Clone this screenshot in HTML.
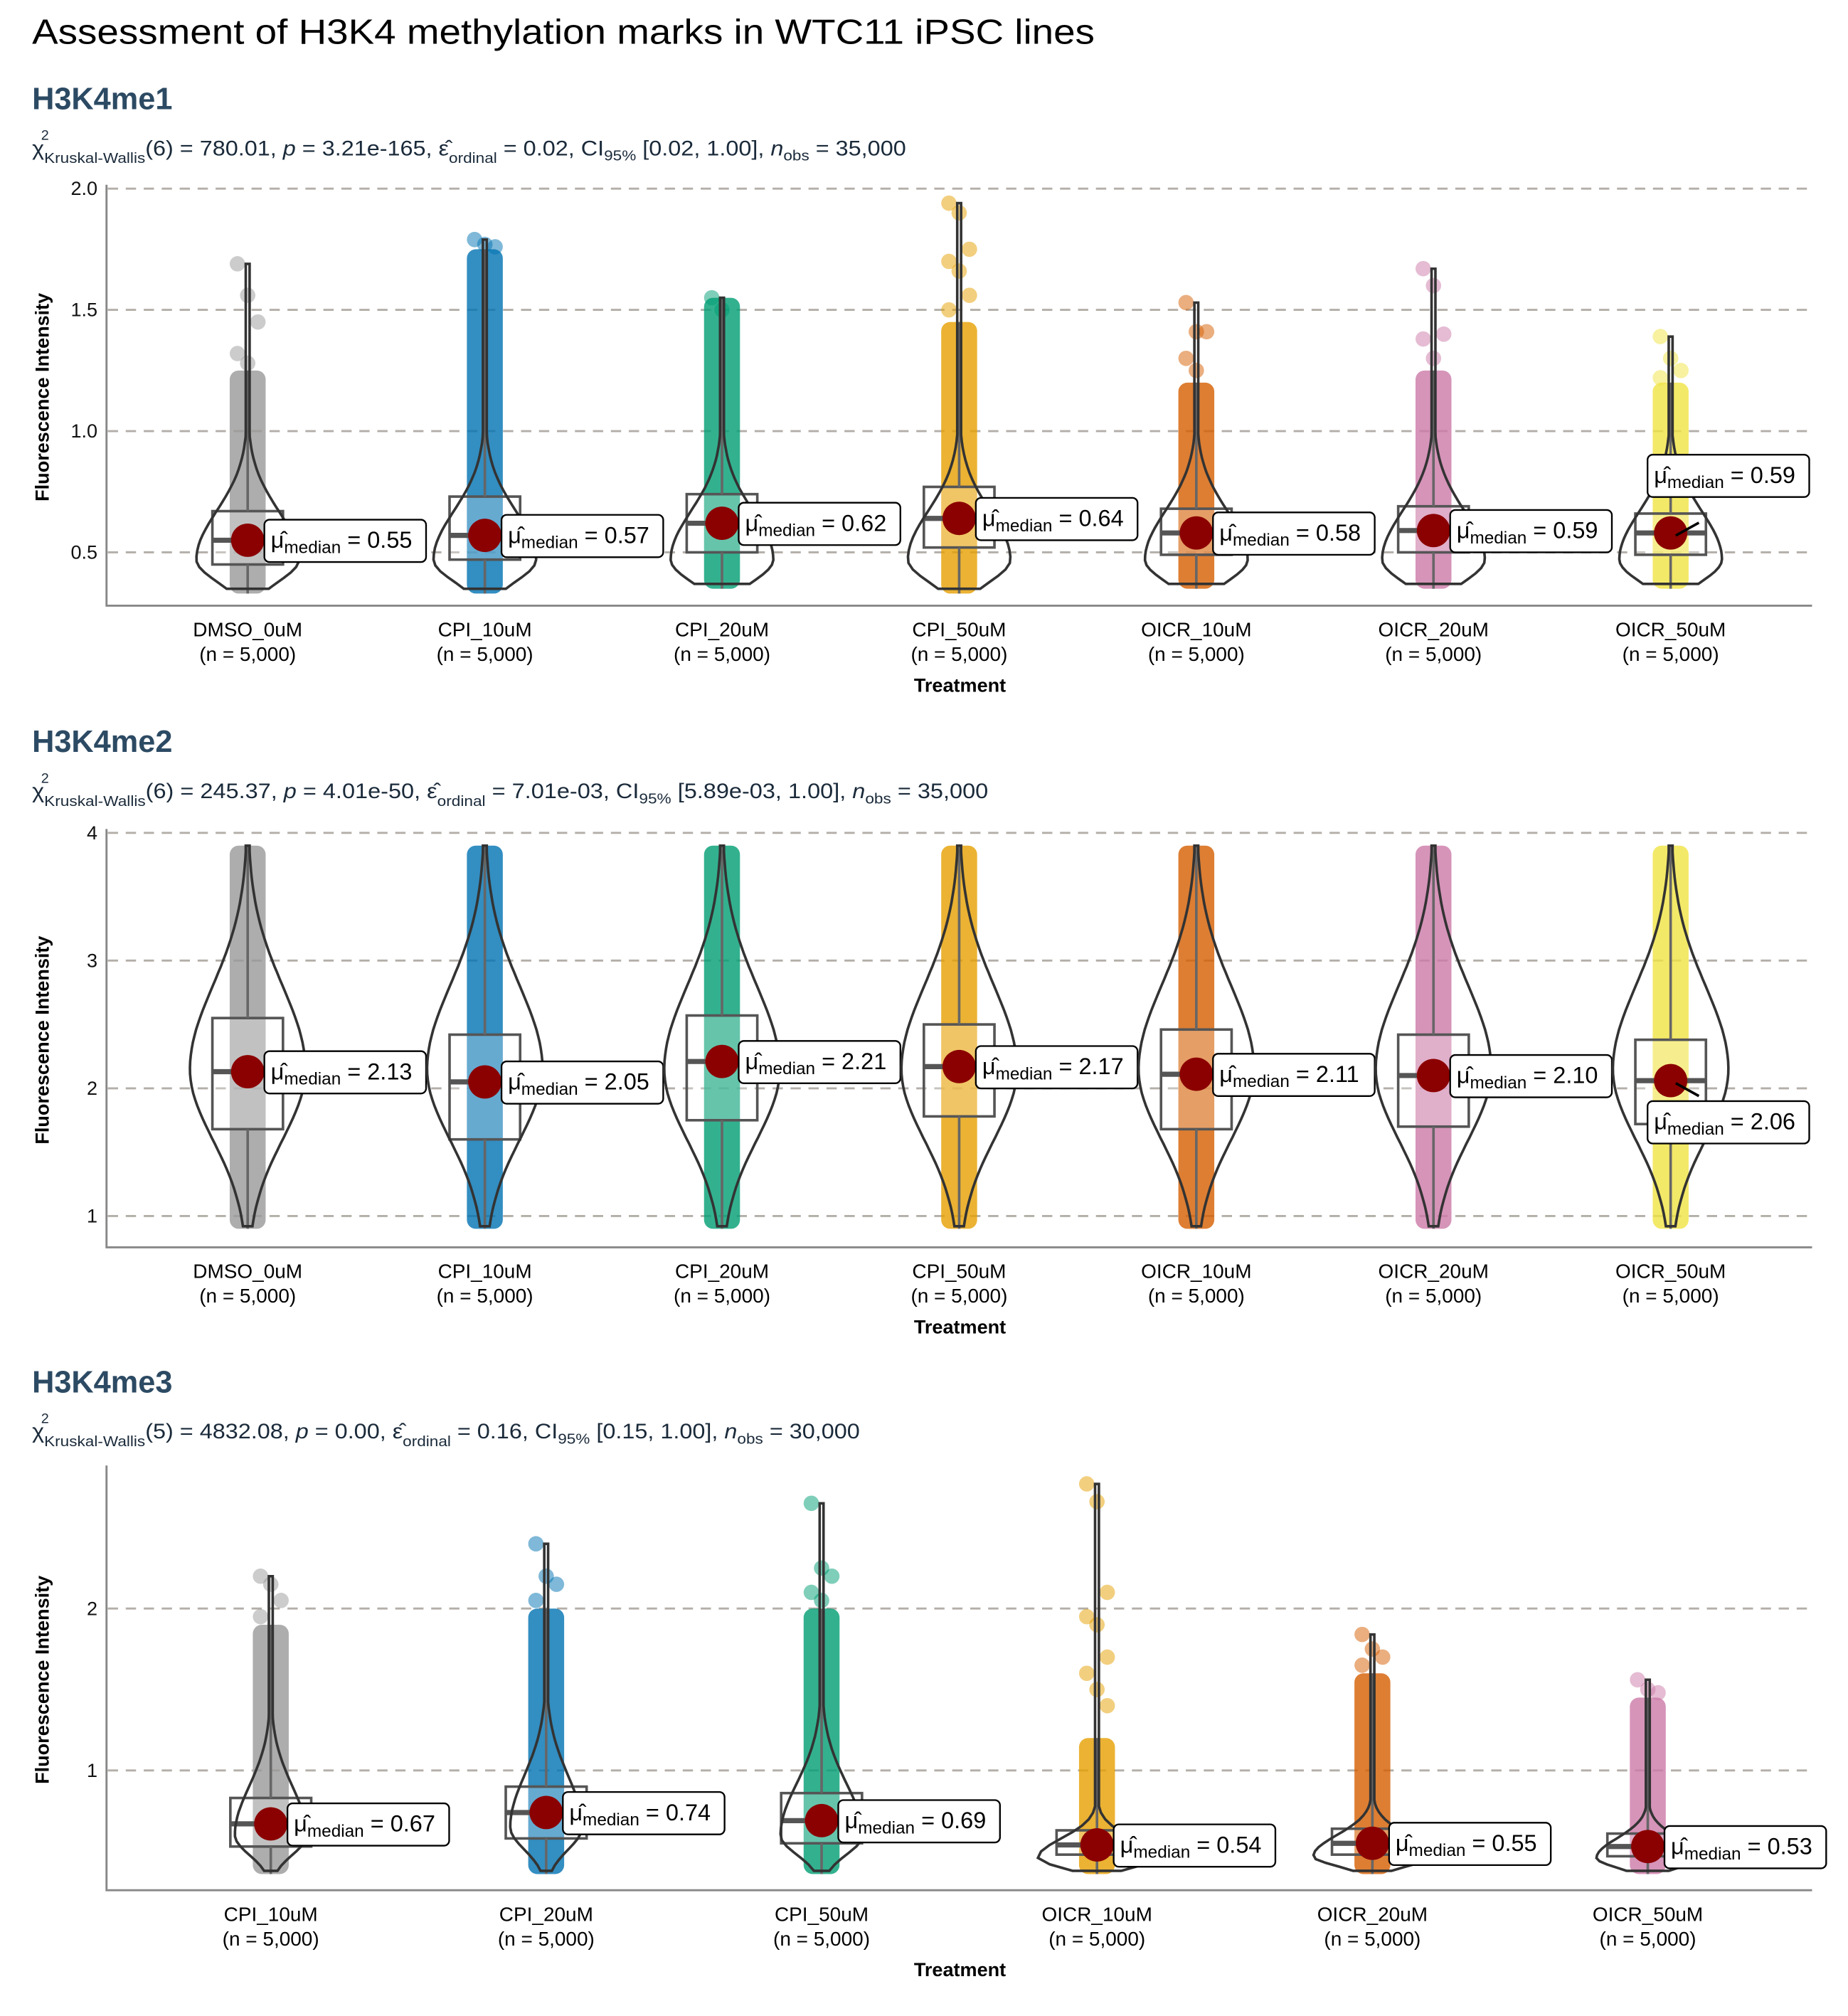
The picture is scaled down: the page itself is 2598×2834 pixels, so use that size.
<!DOCTYPE html>
<html><head><meta charset="utf-8"><style>
html,body{margin:0;padding:0;background:#fff;}
svg{display:block;font-family:"Liberation Sans",Arial,sans-serif;}
</style></head><body>
<svg id="chart" width="2598" height="2834" viewBox="0 0 1440 1571" preserveAspectRatio="none" xmlns="http://www.w3.org/2000/svg">
<text x="25" y="34" font-size="27" fill="#000" textLength="828" lengthAdjust="spacingAndGlyphs">Assessment of H3K4 methylation marks in WTC11 iPSC lines</text>
<g id="panels"></g>
</svg>
<script>
// ---- data arrays ----
const panelNames = ["H3K4me1","H3K4me2","H3K4me3"];
const cats1 = ["DMSO_0uM","CPI_10uM","CPI_20uM","CPI_50uM","OICR_10uM","OICR_20uM","OICR_50uM"];
const cats3 = ["CPI_10uM","CPI_20uM","CPI_50uM","OICR_10uM","OICR_20uM","OICR_50uM"];
const colors1 = ["#999999","#0072B2","#009E73","#E69F00","#D55E00","#CC79A7","#F0E442"];
const colors3 = ["#999999","#0072B2","#009E73","#E69F00","#D55E00","#CC79A7"];
// H3K4me1
const q1_1 = [0.45,0.47,0.50,0.52,0.49,0.50,0.49];
const med_1 = [0.55,0.57,0.62,0.64,0.58,0.59,0.58];
const q3_1 = [0.67,0.73,0.74,0.77,0.68,0.69,0.66];
const min_1 = [0.33,0.33,0.35,0.33,0.35,0.35,0.35];
const max_1 = [1.69,1.79,1.55,1.94,1.53,1.67,1.39];
const dense_1 = [1.25,1.75,1.55,1.45,1.2,1.25,1.2];
const out_1 = [[1.69,1.56,1.45,1.32,1.28],[1.79,1.77,1.76],[1.55,1.5],[1.94,1.9,1.75,1.7,1.66,1.56,1.5],[1.53,1.41,1.41,1.3,1.25],[1.67,1.6,1.4,1.38,1.3],[1.39,1.3,1.25,1.22]];
const lab_1 = ["0.55","0.57","0.62","0.64","0.58","0.59","0.59"];
const labDy_1 = [0,0,0,0,0,0,-45];
// H3K4me2
const q1_2 = [1.68,1.60,1.75,1.78,1.68,1.70,1.72];
const med_2 = [2.13,2.05,2.21,2.17,2.11,2.10,2.06];
const q3_2 = [2.55,2.42,2.57,2.50,2.46,2.42,2.38];
const min_2 = [0.9,0.9,0.9,0.9,0.9,0.9,0.9];
const max_2 = [3.9,3.9,3.9,3.9,3.9,3.9,3.9];
const dense_2 = [3.9,3.9,3.9,3.9,3.9,3.9,3.9];
const out_2 = [[],[],[],[],[],[],[]];
const lab_2 = ["2.13","2.05","2.21","2.17","2.11","2.10","2.06"];
const labDy_2 = [0,0,0,0,0,0,32];
// H3K4me3
const q1_3 = [0.53,0.58,0.55,0.48,0.48,0.47];
const med_3 = [0.67,0.74,0.69,0.54,0.55,0.53];
const q3_3 = [0.83,0.90,0.86,0.63,0.64,0.61];
const min_3 = [0.36,0.36,0.36,0.36,0.36,0.36];
const max_3 = [2.2,2.4,2.65,2.77,1.84,1.56];
const dense_3 = [1.9,2.0,2.0,1.2,1.6,1.45];
const out_3 = [[2.2,2.15,2.05,1.95],[2.4,2.2,2.15,2.05],[2.65,2.25,2.2,2.1,2.05],[2.77,2.66,2.1,1.95,1.9,1.7,1.6,1.5,1.4],[1.84,1.75,1.7,1.65],[1.56,1.5,1.48]];
const lab_3 = ["0.67","0.74","0.69","0.54","0.55","0.53"];
const labDy_3 = [0,0,0,0,0,0];
const ticks1 = [0.5,1.0,1.5,2.0], tickLab1 = ["0.5","1.0","1.5","2.0"];
const ticks2 = [1,2,3,4], tickLab2 = ["1","2","3","4"];
const ticks3 = [1,2], tickLab3 = ["1","2"];

// ---- layout (not data) ----
const NS="http://www.w3.org/2000/svg";
const root=document.getElementById('panels');
function el(tag,attrs,parent){const e=document.createElementNS(NS,tag);for(const k in attrs)e.setAttribute(k,attrs[k]);(parent||root).appendChild(e);return e;}

const panels=[
 {name:panelNames[0],hy:85,sy:121,sw:681,top:147,bot:472,vTop:2.0,vBot:0.28,cats:cats1,cols:colors1,q1:q1_1,med:med_1,q3:q3_1,mn:min_1,mx:max_1,dn:dense_1,out:out_1,lab:lab_1,ldy:labDy_1,ticks:ticks1,tl:tickLab1,x0:193,dx:184.8,bw:55,
  stat:{k:"6",chi:"780.01",p:"3.21e-165",e:"0.02",ci:"[0.02, 1.00]",n:"35,000"}, vp:{peak:0.47,sl:0.09,sh:0.2,w:40}},
 {name:panelNames[1],hy:586,sy:622,sw:745,top:649,bot:972,vTop:4.0,vBot:0.755,cats:cats1,cols:colors1,q1:q1_2,med:med_2,q3:q3_2,mn:min_2,mx:max_2,dn:dense_2,out:out_2,lab:lab_2,ldy:labDy_2,ticks:ticks2,tl:tickLab2,x0:193,dx:184.8,bw:55,
  stat:{k:"6",chi:"245.37",p:"4.01e-50",e:"7.01e-03",ci:"[5.89e-03, 1.00]",n:"35,000"}, vp:{peak:2.15,sl:0.55,sh:0.65,w:45}},
 {name:panelNames[2],hy:1085,sy:1121,sw:645,top:1145,bot:1473,vTop:2.86,vBot:0.26,cats:cats3,cols:colors3,q1:q1_3,med:med_3,q3:q3_3,mn:min_3,mx:max_3,dn:dense_3,out:out_3,lab:lab_3,ldy:labDy_3,ticks:ticks3,tl:tickLab3,x0:211,dx:214.6,bw:63,
  stat:{k:"5",chi:"4832.08",p:"0.00",e:"0.16",ci:"[0.15, 1.00]",n:"30,000"}, vp:null}
];
const vp3=[{peak:0.6,sl:0.12,sh:0.3,w:28},{peak:0.65,sl:0.14,sh:0.32,w:28},{peak:0.6,sl:0.12,sh:0.32,w:32},{peak:0.46,sl:0.06,sh:0.12,w:46},{peak:0.47,sl:0.06,sh:0.13,w:46},{peak:0.46,sl:0.06,sh:0.12,w:40}];

panels.forEach((P,pi)=>{
 const g=el('g',{});
 
 
 const y=v=>P.bot-(v-P.vBot)/(P.vTop-P.vBot)*(P.bot-P.top);
 const x=i=>P.x0+i*P.dx;
 const h=el('text',{x:25,y:P.hy,'font-size':24,'font-weight':'bold',fill:'#2c4a63'},g);h.textContent=P.name;
 
 
 // stats
 const s=el('text',{x:25,y:P.sy,'font-size':16.5,fill:'#1a2a3a',textLength:P.sw,lengthAdjust:'spacingAndGlyphs'},g);
 
 
 s.innerHTML='χ<tspan font-size="11.5" dy="6">Kruskal-Wallis</tspan><tspan dy="-6">('+P.stat.k+') = '+P.stat.chi+', </tspan><tspan font-style="italic">p</tspan> = '+P.stat.p+', ε̂<tspan font-size="11.5" dy="6">ordinal</tspan><tspan dy="-6"> = '+P.stat.e+', CI</tspan><tspan font-size="11.5" dy="4">95%</tspan><tspan dy="-4"> '+P.stat.ci+', </tspan><tspan font-style="italic">n</tspan><tspan font-size="11.5" dy="4">obs</tspan><tspan dy="-4"> = '+P.stat.n+'</tspan>';
 el('text',{x:32,y:P.sy-12,'font-size':11,fill:'#1a2a3a'},g).textContent='2';
 // gridlines
 P.ticks.forEach((t,i)=>{
  const gl=el('line',{x1:84,x2:1412,y1:y(t),y2:y(t),stroke:'#b3aea8','stroke-width':1.6,'stroke-dasharray':'8 6'},g);
  
  
  const tl=el('text',{x:76,y:y(t)+5,'font-size':15,'text-anchor':'end',fill:'#111'},g);tl.textContent=P.tl[i];
  
  
 });
 // axes
 const ax=el('path',{d:`M83 ${P.top-3} V${P.bot} H1412`,fill:'none',stroke:'#888','stroke-width':1.6},g);
 
 
 const yt=el('text',{transform:`translate(38 ${(P.top+P.bot)/2}) rotate(-90)`,'font-size':15,'font-weight':'bold','text-anchor':'middle'},g);yt.textContent='Fluorescence Intensity';
 
 
 const xt=el('text',{x:748,y:P.bot+67,'font-size':15,'font-weight':'bold','text-anchor':'middle'},g);xt.textContent='Treatment';
 
 
 P.cats.forEach((c,i)=>{
  const cx=x(i), col=P.cols[i];
  const cg=el('g',{},g);
  
  
  // points band
  const bh=14;
  const band=el('rect',{x:cx-bh,y:y(P.dn[i]),width:bh*2,height:y(P.mn[i])-y(P.dn[i]),rx:7,fill:col,'fill-opacity':0.8},cg);
  
  
  P.out[i].forEach((v,k)=>{
   const c2=el('circle',{cx:cx+((k%3)-1)*8,cy:y(v),r:6,fill:col,'fill-opacity':0.5},cg);
   
   
  });
  // box
  const bw=P.bw;
  const bx=el('rect',{x:cx-bw/2,y:y(P.q3[i]),width:bw,height:y(P.q1[i])-y(P.q3[i]),fill:'#fff','fill-opacity':0.25,stroke:'#555','stroke-width':2},cg);
  
  
  el('line',{x1:cx-bw/2,x2:cx+bw/2,y1:y(P.med[i]),y2:y(P.med[i]),stroke:'#555','stroke-width':4},cg);
  el('line',{x1:cx,x2:cx,y1:y(P.q3[i]),y2:y(P.dn[i]),stroke:'#666','stroke-width':2},cg);
  el('line',{x1:cx,x2:cx,y1:y(P.q1[i]),y2:y(P.mn[i]),stroke:'#666','stroke-width':2},cg);
  // violin
  const vp=P.vp||vp3[i];
  const lo=P.mn[i]+0.02, hi=P.mx[i];
  let L=[],R=[];
  const N=60;
  for(let k=0;k<=N;k++){
   const v=lo+(hi-lo)*k/N;
   const s=v<vp.peak?vp.sl:vp.sh;
   const w=Math.max(1.5,vp.w*Math.exp(-0.5*((v-vp.peak)/s)**2));
   L.push([cx-w,y(v)]);R.push([cx+w,y(v)]);
  }
  const pts=L.concat(R.reverse());
  const vi=el('path',{d:'M'+pts.map(p=>p[0].toFixed(1)+' '+p[1].toFixed(1)).join(' L')+' Z',fill:'none',stroke:'#333','stroke-width':2},cg);
  
  
  // median dot
  const my=y(P.med[i]);
  const dot=el('circle',{cx:cx,cy:my,r:13,fill:'#8b0000'},cg);
  
  
  // label
  const dy=P.ldy[i];
  const lx=dy===0?cx+13:cx-18, ly=my+dy+6;
  if(dy!==0) el('line',{x1:cx+4,y1:my+2,x2:cx+22,y2:my+(dy>0?12:-8),stroke:'#000','stroke-width':2},cg);
  const lr=el('rect',{x:lx,y:ly-22,width:126,height:33,rx:4,fill:'#fff',stroke:'#000','stroke-width':1.3},cg);
  
  
  const lt=el('text',{x:lx+5,y:ly,'font-size':18,fill:'#000'},cg);
  lt.innerHTML='μ̂<tspan font-size="13.5" dy="4">median</tspan><tspan dy="-4"> = '+P.lab[i]+'</tspan>';
  // x labels
  const xl=el('text',{x:cx,y:P.bot+24,'font-size':15.5,'text-anchor':'middle'},cg);xl.textContent=c;
  
  
  const xn=el('text',{x:cx,y:P.bot+43,'font-size':15.5,'text-anchor':'middle'},cg);xn.textContent='(n = 5,000)';
  
  
 });
});
</script>
</body></html>
